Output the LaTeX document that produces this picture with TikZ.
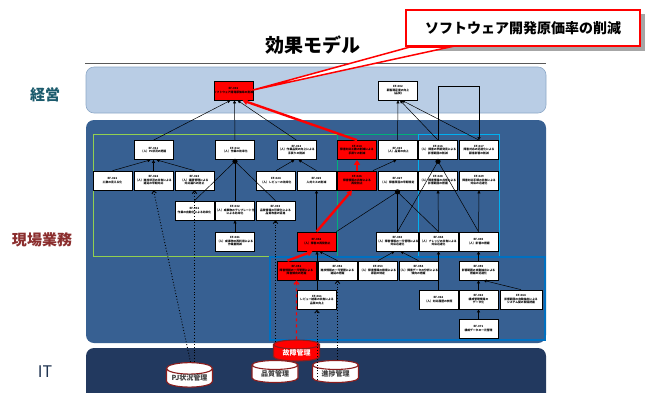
\documentclass[tikz,border=0pt]{standalone}
\usepackage{fontspec}
\setmainfont{Noto Sans CJK JP}
\usetikzlibrary{arrows.meta,shapes.geometric,calc}
\definecolor{bandtop}{HTML}{B9CDE5}
\definecolor{bandtopline}{HTML}{8EA9C8}
\definecolor{bandmid}{HTML}{376092}
\definecolor{bandit}{HTML}{22395F}
\definecolor{lblkeiei}{HTML}{1A5A6C}
\definecolor{lblgenba}{HTML}{8B2E2E}
\definecolor{lblit}{HTML}{1F3350}
\definecolor{boxgreen}{HTML}{92D050}
\definecolor{boxteal}{HTML}{00B07A}
\definecolor{boxcyan}{HTML}{00B0F0}
\definecolor{boxblue}{HTML}{0070C0}
\definecolor{dbred}{HTML}{8B1E1E}
\begin{document}
\begin{tikzpicture}[x=1pt,y=-1pt,
  ef/.style={draw=black, line width=0.7pt, fill=white, minimum width=39pt, minimum height=19pt,
    inner sep=0pt, align=center, font=\fontsize{2.8}{3.5}\selectfont\bfseries},
  efr/.style={ef, fill=red},
  con/.style={line width=0.5pt, -{Triangle[length=3pt,width=3pt]}},
  agg/.style={line width=0.5pt},
  dotc/.style={line width=0.9pt, dotted, -{Straight Barb[length=2.5pt,width=4.5pt]}},
  redc/.style={red, line width=2.4pt, -{Triangle[length=5pt,width=6pt]}},
  db/.style={cylinder, shape border rotate=90, aspect=0.32, draw=dbred, line width=1.1pt,
    fill=white, minimum width=46pt, minimum height=22pt, inner sep=0pt,
    font=\fontsize{7}{8}\selectfont\bfseries, text=black!75},
  band/.style={rounded corners=8pt},
  lbl/.style={font=\fontsize{15}{17}\selectfont\bfseries}
]
\useasboundingbox (0,0) rectangle (652,392);
\fill[white] (0,0) rectangle (652,392);

% title and rule
\node[font=\fontsize{19}{21}\selectfont\bfseries] (title) at (313,45) {効果モデル};
\draw[black!65, line width=0.8pt] (85,63) -- (546,63);

% bands
\draw[band, fill=bandtop, draw=bandtopline, line width=0.6pt] (86,67) rectangle (546,113);
\fill[band, bandmid] (86,120) rectangle (546,343);
\fill[band, bandit] (86,348) rectangle (546,410);

\node[lbl, text=lblkeiei] (l1) at (45,95) {経営};
\node[lbl, text=lblgenba] (l2) at (42,240) {現場業務};
\node[font=\fontsize{16}{18}\selectfont, text=lblit] (l3) at (45,372) {IT};

% group boxes
\draw[boxgreen, line width=1pt] (93,134) rectangle (337,256);
\draw[boxteal, line width=1pt] (337,134) rectangle (418,256);
\draw[boxcyan, line width=1pt] (418,134) rectangle (499,256);
\draw[boxblue, line width=1.2pt] (270,257) rectangle (545,340);

% nodes
\node[efr] (R0) at (233.5,90.5) {EF-001\\ソフトウェア開発原価率の削減};
\node[ef]  (W0) at (398,90.5) {EF-002\\顧客満足度の向上\\（品質）};

\node[ef]  (A1) at (153.5,150) {EF-011\\｛人｝PJ状況の把握};
\node[ef]  (A2) at (235,150) {EF-012\\｛人｝作業の効率化};
\node[ef]  (A3) at (296.5,150) {EF-013\\｛人｝作業品質の向上による\\手戻りの削減};
\node[efr] (R1) at (357,150) {EF-014\\障害対応工数の削減による\\手戻りの削減};
\node[ef]  (A4) at (397.5,150) {EF-015\\｛人｝品質の向上};
\node[ef]  (A5) at (438,150) {EF-016\\｛人｝障害の早期発見による\\影響範囲の削減};
\node[ef]  (A6) at (479,150) {EF-017\\障害対応の迅速化による\\顧客影響の削減};

\node[ef]  (B1) at (112.5,180.5) {EF-021\\工数の見える化};
\node[ef]  (B2) at (153.5,180.5) {EF-022\\｛人｝進捗状況の共有による\\遅延の早期対応};
\node[ef]  (B3) at (194.5,180.5) {EF-023\\｛人｝課題管理による\\対応漏れの防止};
\node[ef]  (B4) at (276,180.5) {EF-024\\｛人｝レビューの効率化};
\node[ef]  (B5) at (316.5,180.5) {EF-025\\人的ミスの削減};
\node[efr] (R2) at (357,180.5) {EF-026\\障害情報の共有による\\再発防止};
\node[ef]  (B6) at (397.5,180.5) {EF-027\\｛人｝障害原因の早期特定};
\node[ef]  (B7) at (438,180.5) {EF-028\\｛人｝障害情報の共有による\\影響範囲の把握};
\node[ef]  (B8) at (479,180.5) {EF-029\\障害対応手順の共有による\\対応の迅速化};

\node[ef]  (C1) at (194.5,210.5) {EF-031\\作業の自動化による効率化};
\node[ef]  (C2) at (235,210.5) {EF-032\\｛人｝成果物のテンプレート化\\による効率化};
\node[ef]  (C3) at (275.5,210.5) {EF-033\\品質情報の可視化による\\品質改善の促進};

\node[ef]  (C4) at (235,241.5) {EF-041\\｛人｝成果物の再利用による\\作業量削減};
\node[efr] (R3) at (316.5,241.5) {EF-042\\｛人｝障害の再発防止};
\node[ef]  (E1) at (397.5,241.5) {EF-043\\｛人｝障害情報の一元管理による\\対応迅速化};
\node[ef]  (E2) at (438.5,241.5) {EF-044\\｛人｝ナレッジの共有による\\対応迅速化};
\node[ef]  (E3) at (478.5,241.5) {EF-045\\｛人｝影響の把握};

\node[efr] (R4) at (296.5,270.5) {EF-051\\障害情報の一元管理による\\障害傾向の把握};
\node[ef]  (D2) at (337.5,270.5) {EF-052\\進捗情報の一元管理による\\遅延の把握};
\node[ef]  (D3) at (378,270.5) {EF-053\\｛人｝障害情報の検索による\\原因の特定};
\node[ef]  (D4) at (418.5,270.5) {EF-054\\｛人｝障害データの分析による\\傾向の把握};
\node[ef]  (D5) at (478.5,270.5) {EF-055\\影響範囲の自動抽出による\\把握の迅速化};

\node[ef]  (D1) at (317,300) {EF-061\\レビュー結果の共有による\\品質の向上};
\node[ef]  (F1) at (438.5,299.5) {EF-062\\｛人｝対応履歴の参照};
\node[ef]  (F2) at (478.5,299.5) {EF-063\\構成管理情報の\\データ化};
\node[ef, minimum width=42pt] (F3) at (521,299.5) {EF-064\\影響範囲の自動抽出による\\システム間の関係把握};
\node[ef]  (G1) at (478.5,328.5) {EF-071\\構成データの一元管理};

% databases
\node[db] (pj) at (189.5,378) {PJ状況管理};
\node[db] (hin) at (275,374) {品質管理};
\node[db] (shin) at (335.5,374) {進捗管理};
\node[db, fill=red, minimum height=21pt, text=white] (kos) at (296.5,353) {故障管理};

% connectors to management level
\draw[con] (A1.north) -- ([xshift=-3pt]R0.south);
\draw[con] (A2.north) -- ([xshift=1pt]R0.south);
\draw[con] (A3.north) -- ([xshift=4pt]R0.south);
\draw[redc] (R1.north) -- ([xshift=9pt]R0.south);
\draw[con] (A4.north) -- (W0.south);
\draw[con] (A5.north) -- ([xshift=2pt]W0.south);
\draw[con] (A6.north) -- ([xshift=4pt]W0.south);
\coordinate (elb) at (0,86);
\draw[con] (A5.north) -- (A5.north |- elb) -| (A6.north);

% row 2 -> row 1
\draw[con] (B1.north) -- ([xshift=-3pt]A1.south);
\draw[con] (B2.north) -- (A1.south);
\draw[con] (B3.north) -- ([xshift=3pt]A1.south);
\draw[con] (B4.north) -- ([xshift=-2pt]A3.south);
\draw[con] (B5.north) -- ([xshift=2pt]A3.south);
\draw[redc] (R2.north) -- (R1.south);
\draw[con] ([xshift=-4pt]R2.north east) -- ([xshift=-1pt]A4.south);

% aggregation points
\draw[agg] ([yshift=-1.5pt]A2.south) -- (C1.north);
\draw[agg] ([yshift=-1.5pt]A2.south) -- (C2.north);
\draw[agg] ([yshift=-1.5pt]A2.south) -- (C3.north);
\fill ([yshift=-1.5pt]A2.south) circle (2.6pt);
\draw[agg] ([yshift=-1.5pt]A5.south) -- (E1.north);
\draw[agg] ([yshift=-1.5pt]A5.south) -- (E3.north);
\fill ([yshift=-1.5pt]A5.south) circle (2.6pt);
\draw[agg] ([yshift=-1.5pt]B6.south) -- (E1.north);
\draw[agg] ([yshift=-1.5pt]B6.south) -- (E2.north);
\draw[agg] ([yshift=-1.5pt]B6.south) -- (R3.north east);
\fill ([yshift=-1.5pt]B6.south) circle (2.6pt);

% lower connectors
\draw[con] (E2.north) -- (B7.south);
\draw[con] (E3.north) -- (B8.south);
\draw[con] (C4.north) -- (C2.south);
\draw[con] (R3.north) -- (B5.south);
\draw[redc] (R3.north) -- ([xshift=-5pt]R2.south);
\draw[redc] ([xshift=-9pt]R4.north) -- ([xshift=-4pt]R3.south);
\draw[con] (D1.north) -- ([xshift=0.5pt]R3.south);
\draw[con] (D2.north) -- ([xshift=3pt]R3.south);
\draw[con] (D3.north) -- ([xshift=-3pt]E1.south);
\draw[con] (D4.north) -- ([xshift=3pt]E1.south);
\draw[con] (F1.north) -- (E2.south);
\draw[con] (D5.north) -- (E3.south);
\draw[con] (F2.north) -- (D5.south);
\draw[con] (F3.north) -- ([xshift=5pt]D5.south);
\draw[con] (G1.north) -- (F2.south);

% dotted IT links
\draw[dotc] ([xshift=1pt]pj.north) -- (B2.south);
\draw[dotc] (B3.south |- pj.north) -- (B3.south);
\draw[dotc] ([yshift=-2pt]C3.south |- kos.north) -- (C3.south);
\draw[dotc] ([yshift=3pt]D1.south |- shin.south) -- (D1.south);
\draw[dotc] (D2.south |- shin.north) -- (D2.south);
\draw[red, dashed, line width=1.3pt, -{Straight Barb[length=3pt,width=5pt]}] (kos.north) -- (R4.south);

% callout
\fill[black!35] (410,14) rectangle (645,51);
\draw[red, line width=1.5pt, fill=white] (410,47) -- (253,90) -- (450,47) -- cycle;
\node[draw=red, line width=2.5pt, fill=white, minimum width=234pt, minimum height=36pt,
  inner sep=0pt, font=\fontsize{14}{16}\selectfont\bfseries] (call) at (523,28) {ソフトウェア開発原価率の削減};
\end{tikzpicture}
\end{document}
